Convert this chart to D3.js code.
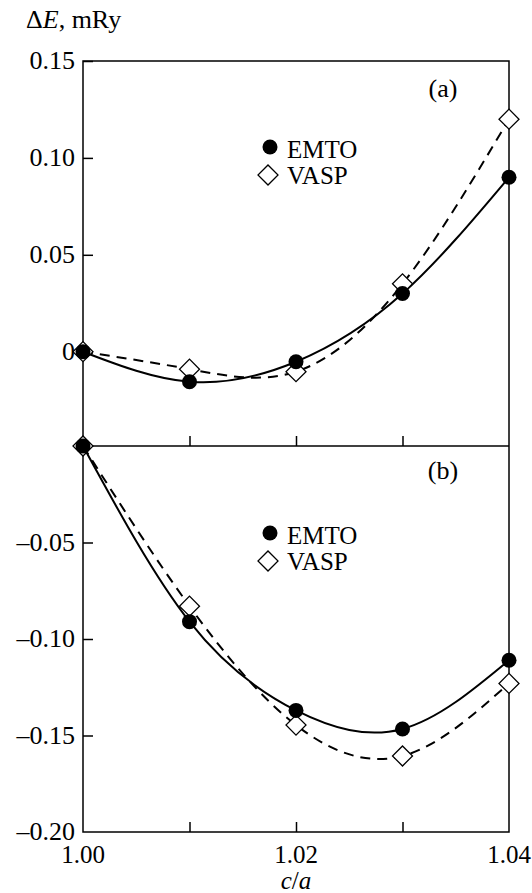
<!DOCTYPE html>
<html>
<head>
<meta charset="utf-8">
<script src="https://cdn.jsdelivr.net/npm/d3@7"></script>
<style>
  body { margin: 0; background: #fff; }
</style>
</head>
<body>
<div id="chart"></div>
<script>
// data
var caValues = [1.00, 1.01, 1.02, 1.03, 1.04];
var emtoA = [0, -0.0155, -0.0052, 0.030, 0.090];
var vaspA = [0, -0.009, -0.0103, 0.035, 0.120];
var emtoB = [0, -0.091, -0.137, -0.1466, -0.111];
var vaspB = [0, -0.083, -0.1446, -0.1606, -0.123];

var xTicks = [1.00, 1.01, 1.02, 1.03, 1.04];
var xTickLabels = ["1.00", "", "1.02", "", "1.04"];
var yTicksA = [0, 0.05, 0.10, 0.15];
var yTickLabelsA = ["0", "0.05", "0.10", "0.15"];
var yTicksB = [-0.05, -0.10, -0.15, -0.20];
var yTickLabelsB = ["\u20130.05", "\u20130.10", "\u20130.15", "\u20130.20"];

// svg area
var svgWidth = 532;
var svgHeight = 893;

var left = 83, right = 509;
var topA = 61, mid = 446, bottomB = 832;

var serif = "'Liberation Serif', 'Times New Roman', Times, 'DejaVu Serif', serif";

var svg = d3.select("#chart")
    .append("svg")
    .attr("width", svgWidth)
    .attr("height", svgHeight)
    .attr("font-family", serif)
    .style("font-family", serif);

var xScale = d3.scaleLinear()
    .domain([1.00, 1.04])
    .range([left, right]);

// panel (a): 0 sits ~352, 0.15 at the top
var yScaleA = d3.scaleLinear()
    .domain([0, 0.15])
    .range([351.7, topA]);

var yScaleB = d3.scaleLinear()
    .domain([-0.20, 0])
    .range([bottomB, mid]);

var fontSize = 26;
var smallFont = 25;

// frame
svg.append("rect")
    .attr("x", left)
    .attr("y", topA)
    .attr("width", right - left)
    .attr("height", bottomB - topA)
    .attr("fill", "none")
    .attr("stroke", "#000")
    .attr("stroke-width", 1.5);

svg.append("line")
    .attr("x1", left).attr("x2", right)
    .attr("y1", mid).attr("y2", mid)
    .attr("stroke", "#000")
    .attr("stroke-width", 1.5);

// axes with inward ticks
var axisA = d3.axisRight(yScaleA).tickValues(yTicksA).tickSize(10).tickFormat("");
var axisB = d3.axisRight(yScaleB).tickValues(yTicksB.slice(0, 3)).tickSize(10).tickFormat("");
var xAxisTop = d3.axisTop(xScale).tickValues([1.01, 1.02, 1.03]).tickSize(10).tickFormat("");

function styleAxis(g) {
    g.select(".domain").remove();
    g.selectAll("line").attr("stroke", "#000").attr("stroke-width", 1.5);
}

svg.append("g").attr("transform", `translate(${left},0)`).call(axisA).call(styleAxis);
svg.append("g").attr("transform", `translate(${left},0)`).call(axisB).call(styleAxis);
svg.append("g").attr("transform", `translate(0,${mid})`).call(xAxisTop).call(styleAxis);
svg.append("g").attr("transform", `translate(0,${bottomB})`).call(xAxisTop).call(styleAxis);

// y tick labels
svg.append("g").selectAll("text")
    .data(yTicksA)
    .enter()
    .append("text")
    .attr("x", 75)
    .attr("y", d => yScaleA(d) + 8)
    .attr("text-anchor", "end")
    .attr("font-size", fontSize)
    .text((d, i) => yTickLabelsA[i]);

svg.append("g").selectAll("text")
    .data(yTicksB)
    .enter()
    .append("text")
    .attr("x", 75)
    .attr("y", d => yScaleB(d) + 8)
    .attr("text-anchor", "end")
    .attr("font-size", fontSize)
    .text((d, i) => yTickLabelsB[i]);

// x tick labels
svg.append("g").selectAll("text")
    .data(xTicks)
    .enter()
    .append("text")
    .attr("x", d => xScale(d))
    .attr("y", 863)
    .attr("text-anchor", "middle")
    .attr("font-size", smallFont)
    .text((d, i) => xTickLabels[i]);

// axis titles
var xTitle = svg.append("text")
    .attr("x", (left + right) / 2)
    .attr("y", 889)
    .attr("text-anchor", "middle")
    .attr("font-size", smallFont)
    .attr("font-style", "italic");
xTitle.append("tspan").text("c");
xTitle.append("tspan").attr("font-style", "normal").text("/");
xTitle.append("tspan").text("a");

var yTitle = svg.append("text")
    .attr("x", 26)
    .attr("y", 28)
    .attr("font-size", fontSize);
yTitle.append("tspan").text("\u0394");
yTitle.append("tspan").attr("font-style", "italic").text("E");
yTitle.append("tspan").text(", mRy");

// panel labels
svg.append("text").attr("x", 443).attr("y", 97).attr("text-anchor", "middle")
    .attr("font-size", fontSize).text("(a)");
svg.append("text").attr("x", 443).attr("y", 479).attr("text-anchor", "middle")
    .attr("font-size", fontSize).text("(b)");

var diamond = d3.symbol().type(d3.symbolSquare).size(200);

function drawPanel(emto, vasp, yScale) {
    var line = d3.line()
        .x((d, i) => xScale(caValues[i]))
        .y(d => yScale(d))
        .curve(d3.curveNatural);

    svg.append("path")
        .attr("d", line(vasp))
        .attr("fill", "none")
        .attr("stroke", "#000")
        .attr("stroke-width", 2)
        .attr("stroke-dasharray", "10,7");

    svg.append("path")
        .attr("d", line(emto))
        .attr("fill", "none")
        .attr("stroke", "#000")
        .attr("stroke-width", 2);

    svg.append("g").selectAll("path")
        .data(vasp)
        .enter()
        .append("path")
        .attr("d", diamond)
        .attr("transform", (d, i) => `translate(${xScale(caValues[i])},${yScale(d)}) rotate(45)`)
        .attr("fill", "#fff")
        .attr("stroke", "#000")
        .attr("stroke-width", 1.3);

    svg.append("g").selectAll("circle")
        .data(emto)
        .enter()
        .append("circle")
        .attr("cx", (d, i) => xScale(caValues[i]))
        .attr("cy", d => yScale(d))
        .attr("r", 7.5)
        .attr("fill", "#000");
}

drawPanel(emtoA, vaspA, yScaleA);
drawPanel(emtoB, vaspB, yScaleB);

// legends
function drawLegend(yCircle) {
    svg.append("circle")
        .attr("cx", 270).attr("cy", yCircle).attr("r", 7.5).attr("fill", "#000");
    svg.append("text").attr("x", 287).attr("y", yCircle + 11)
        .attr("font-size", smallFont).text("EMTO");
    svg.append("path")
        .attr("d", diamond)
        .attr("transform", `translate(268,${yCircle + 28}) rotate(45)`)
        .attr("fill", "#fff")
        .attr("stroke", "#000")
        .attr("stroke-width", 1.3);
    svg.append("text").attr("x", 287).attr("y", yCircle + 37)
        .attr("font-size", smallFont).text("VASP");
}

drawLegend(147);
drawLegend(533);
</script>
</body>
</html>
